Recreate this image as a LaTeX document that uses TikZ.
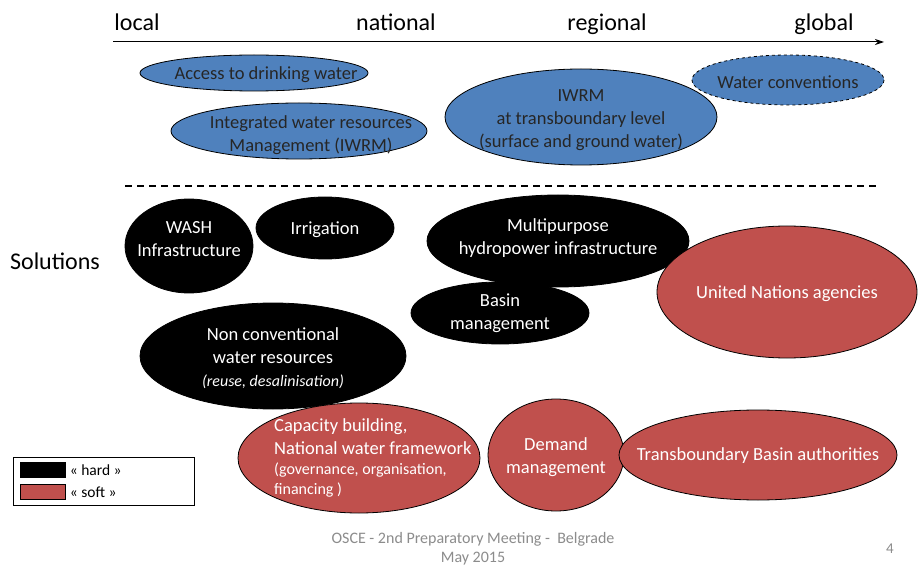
\documentclass[tikz,border=0pt]{standalone}
\usepackage{fontspec}
\setmainfont{Carlito}
\usepackage{xcolor}
\usepackage{tikz}
\usetikzlibrary{arrows.meta,positioning}
\definecolor{blueFill}{HTML}{4F81BD}
\definecolor{redFill}{HTML}{C0504D}
\definecolor{footGray}{HTML}{8C8C8C}
\tikzstyle{blob}  = [draw=black, line width=0.8pt]
\tikzstyle{water} = [blob, fill=blueFill]
\tikzstyle{hard}  = [blob, fill=black]
\tikzstyle{soft}  = [blob, fill=redFill]
\tikzstyle{label} = [align=center, inner sep=0pt, yshift=-2pt, font=\fontsize{18.5}{23}\selectfont]
\tikzstyle{dark label}  = [label, text=black!85]
\tikzstyle{light label} = [label, text=white]
\tikzstyle{scale label} = [font=\fontsize{24}{28}\selectfont, anchor=base]
\newcommand{\smalltext}{\fontsize{16}{18}\selectfont}

\begin{document}
\begin{tikzpicture}[x=1pt,y=-1pt]
   		\useasboundingbox[fill=white] (0,0) rectangle (918,569);
   		% scale axis
   		\coordinate (axisL) at (113,42);
   		\coordinate (axisR) at (884,42);
   		\draw[-{Stealth[length=9pt,width=6pt]},line width=1pt] (axisL) -- (axisR); % local -> global
   		\node (local)    [scale label] at (137,31) {local};
   		\node (national) [scale label] at (396,31) {national};
   		\node (regional) [scale label] at (607,31) {regional};
   		\node (global)   [scale label] at (824,31) {global};
   		% water ellipses
   		\draw[water] (254,73) ellipse [x radius=114, y radius=18];
   		\node (access) [dark label] at (266,73) {Access to drinking water};
   		\draw[water] (299,131) ellipse [x radius=128, y radius=28];
   		\node (iwrm) [dark label] at (311,133) {Integrated water resources\\Management (IWRM)};
   		\draw[water] (581,117) ellipse [x radius=136, y radius=48];
   		\node (tiwrm) [dark label] at (581,118) {IWRM\\at transboundary level\\(surface and ground water)};
   		\draw[water, dashed] (788,80) ellipse [x radius=96, y radius=25];
   		\node (conv) [dark label] at (788,80) {Water conventions};
   		% separator
   		\coordinate (sepL) at (125,186);
   		\coordinate (sepR) at (877,186);
   		\draw[line width=1.2pt,dash pattern=on 7pt off 5pt] (sepL) -- (sepR);
   		\node (sol) [font=\fontsize{24}{28}\selectfont] at (55,261) {Solutions};
   		% hard solutions
   		\draw[hard] (189,246) ellipse [x radius=64, y radius=47];
   		\node (wash) [light label] at (189,237) {WASH\\Infrastructure};
   		\draw[hard] (325,228) ellipse [x radius=69, y radius=31];
   		\node (irrig) [light label] at (325,228) {Irrigation};
   		\draw[hard] (558,241) ellipse [x radius=131, y radius=46];
   		\node (hydro) [light label] at (558,236) {Multipurpose\\hydropower infrastructure};
   		\draw[hard] (500,313) ellipse [x radius=89, y radius=31];
   		\node (basin) [light label] at (500,311) {Basin\\management};
   		\draw[hard] (273,356) ellipse [x radius=133, y radius=53];
   		\node (noncon) [light label] at (273,356) {Non conventional\\water resources\\{\smalltext\itshape (reuse, desalinisation)}};
   		% soft solutions
   		\draw[soft] (787,292) ellipse [x radius=130, y radius=66];
   		\node (un) [light label] at (787,292) {United Nations agencies};
   		\draw[soft] (359,458) ellipse [x radius=121, y radius=55];
   		\node (capa) [light label, align=left, anchor=west] at (274,456) {Capacity building,\\National water framework\\[-3pt]{\smalltext (governance, organisation,}\\[-3pt]{\smalltext financing )}};
   		\draw[soft] (556,455) ellipse [x radius=68, y radius=56];
   		\node (demand) [light label] at (556,455) {Demand\\management};
   		\draw[soft] (758,455) ellipse [x radius=139, y radius=45];
   		\node (tba) [light label] at (758,454) {Transboundary Basin authorities};
   		% legend
   		\draw[line width=0.6pt] (13,457) rectangle (194,505);
   		\node (hardKey) [draw=black, fill=black, minimum width=45, minimum height=15, inner sep=0pt] at (43,470) {};
   		\node (softKey) [draw=black, fill=redFill, minimum width=45, minimum height=15, inner sep=0pt] at (43,492) {};
   		\node (hardTxt) [right=3pt of hardKey, font=\fontsize{15.5}{17}\selectfont, inner sep=1pt] {« hard »};
   		\node (softTxt) [right=3pt of softKey, font=\fontsize{15.5}{17}\selectfont, inner sep=1pt] {« soft »};
   		% footer
   		\node (foot) [text=footGray, align=center, font=\fontsize{16}{19}\selectfont] at (473,549) {OSCE - 2nd Preparatory Meeting -\ \ Belgrade\\May 2015};
   		\node (page) [text=footGray, font=\fontsize{15}{17}\selectfont] at (890,549) {4};
\end{tikzpicture}
\end{document}
